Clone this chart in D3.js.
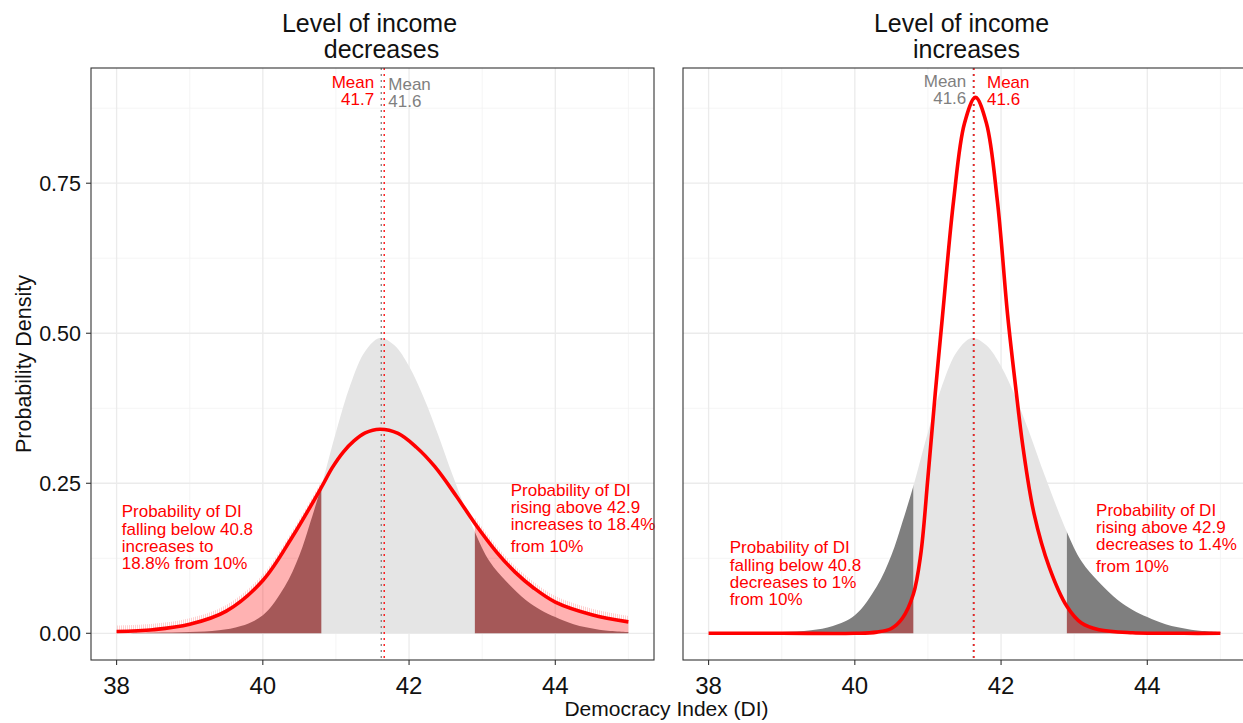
<!DOCTYPE html>
<html>
<head>
<meta charset="utf-8">
<script src="https://cdn.jsdelivr.net/npm/d3@7"></script>
<style>
  body { margin: 0; background: #fff; }
  text { font-family: "Liberation Sans", Arial, Helvetica, sans-serif; }
</style>
</head>
<body>
<svg id="chart" width="1243" height="723"></svg>
<script>
// Baseline density of the Democracy Index (grey)
const baseX       = [38.0, 38.5, 39.0, 39.4, 39.7, 40.0, 40.3, 40.5, 40.65, 40.8, 41.0, 41.2, 41.4, 41.6, 41.8, 42.0, 42.2, 42.4, 42.6, 42.9, 43.1, 43.34, 43.6, 43.8, 44.0, 44.25, 44.6, 45.0];
const baseDensity = [0.000, 0.001, 0.002, 0.005, 0.012, 0.030, 0.078, 0.130, 0.185, 0.245, 0.335, 0.415, 0.470, 0.492, 0.480, 0.445, 0.393, 0.330, 0.262, 0.169, 0.120, 0.085, 0.055, 0.039, 0.027, 0.015, 0.006, 0.002];

// Density when the level of income decreases (red, left panel)
const decX       = [38.0, 38.5, 39.0, 39.5, 40.0, 40.4, 40.8, 40.95, 41.1, 41.25, 41.4, 41.6, 41.85, 42.1, 42.35, 42.65, 42.9, 43.2, 43.45, 43.7, 44.0, 44.5, 45.0];
const decDensity = [0.003, 0.006, 0.015, 0.037, 0.088, 0.160, 0.243, 0.276, 0.302, 0.321, 0.334, 0.340, 0.333, 0.310, 0.278, 0.228, 0.183, 0.135, 0.102, 0.076, 0.052, 0.031, 0.019];

// Density when the level of income increases (red, right panel)
const incX       = [38.0, 39.0, 40.0, 40.3, 40.5, 40.65, 40.8, 40.9, 41.0, 41.1, 41.2, 41.35, 41.5, 41.65, 41.8, 41.95, 42.09, 42.2, 42.3, 42.45, 42.66, 42.9, 43.1, 43.34, 43.8, 44.5, 45.0];
const incDensity = [0.000, 0.000, 0.000, 0.002, 0.008, 0.025, 0.065, 0.130, 0.260, 0.400, 0.530, 0.720, 0.850, 0.893, 0.850, 0.720, 0.530, 0.410, 0.310, 0.200, 0.110, 0.045, 0.017, 0.006, 0.001, 0.000, 0.000];

// Tail thresholds and means
const cutoffs  = [40.8, 42.9];
const baseMean = 41.62;
const decMean  = 41.66;
const incMean  = 41.63;

// Axes
const xTicks = [38, 40, 42, 44];
const xMinor = [39, 41, 43, 45];
const yTicks = [0, 0.25, 0.5, 0.75];
const yTickLabels = ["0.00", "0.25", "0.50", "0.75"];
const yMinor = [0.125, 0.375, 0.625, 0.875];

// Panel headings and annotations
const panelTitles = [["Level of income", "decreases"], ["Level of income", "increases"]];
const lowerNotes = [["Probability of DI", "falling below 40.8", "increases to", "18.8% from 10%"],
                    ["Probability of DI", "falling below 40.8", "decreases to 1%", "from 10%"]];
const upperNotes = [["Probability of DI", "rising above 42.9", "increases to 18.4%"],
                    ["Probability of DI", "rising above 42.9", "decreases to 1.4%"]];
const upperNoteTail = ["from 10%", "from 10%"];

const RED = "#ff0000";
const GREY_LIGHT = "#e5e5e5";
const GREY_DARK = "#7f7f7f";
const GREY_TEXT = "#7f7f7f";

const svg = d3.select("#chart");
const defs = svg.append("defs");

// thin vertical hairlines used for the soft edge above the shaded tails
const pat = defs.append("pattern")
  .attr("id", "hair").attr("patternUnits", "userSpaceOnUse")
  .attr("width", 2).attr("height", 4);
pat.append("rect").attr("width", 1).attr("height", 4).attr("fill", "#ff8c8c");

const panelW = 563, panelH = 592, panelTop = 68;
const panelLefts = [91, 683];

const x = d3.scaleLinear().domain([37.65, 45.35]).range([0, panelW]);
const y = d3.scaleLinear().domain([-0.0445, 0.942]).range([panelH, 0]);

const zip = (xs, ys) => xs.map((v, i) => ({ x: v, d: ys[i] }));
const baseData = zip(baseX, baseDensity);
const panels = [
  { data: zip(decX, decDensity), mean: decMean, redLabelLeft: true,  fringe: true },
  { data: zip(incX, incDensity), mean: incMean, redLabelLeft: false, fringe: false }
];

const smooth = d3.curveCatmullRom.alpha(0.5);
const area = d3.area().x(p => x(p.x)).y0(y(0)).y1(p => Math.min(y(0), y(p.d))).curve(smooth);
const line = d3.line().x(p => x(p.x)).y(p => y(p.d)).curve(smooth);
const fringeArea = d3.area().x(p => x(p.x)).y0(p => y(p.d)).y1(p => y(p.d) - 6).curve(smooth);

panels.forEach((pn, i) => {
  const g = svg.append("g").attr("transform", `translate(${panelLefts[i]},${panelTop})`);

  // clip regions: whole panel, tails, middle band
  const cid = `clip${i}`;
  defs.append("clipPath").attr("id", cid)
    .append("rect").attr("width", panelW).attr("height", panelH);
  const tails = defs.append("clipPath").attr("id", `tails${i}`);
  tails.append("rect").attr("x", x(37.65)).attr("y", 0)
    .attr("width", x(cutoffs[0]) - x(37.65)).attr("height", panelH);
  tails.append("rect").attr("x", x(cutoffs[1])).attr("y", 0)
    .attr("width", x(45.35) - x(cutoffs[1])).attr("height", panelH);
  defs.append("clipPath").attr("id", `mid${i}`)
    .append("rect").attr("x", x(cutoffs[0])).attr("y", 0)
    .attr("width", x(cutoffs[1]) - x(cutoffs[0])).attr("height", panelH);

  const body = g.append("g").attr("clip-path", `url(#${cid})`);

  // grid
  body.selectAll(".gmin").data(xMinor).join("line")
    .attr("x1", d => x(d)).attr("x2", d => x(d)).attr("y1", 0).attr("y2", panelH)
    .attr("stroke", "#f2f2f2").attr("stroke-width", 0.8);
  body.selectAll(".gminy").data(yMinor).join("line")
    .attr("x1", 0).attr("x2", panelW).attr("y1", d => y(d)).attr("y2", d => y(d))
    .attr("stroke", "#f2f2f2").attr("stroke-width", 0.8);
  body.selectAll(".gmaj").data(xTicks).join("line")
    .attr("x1", d => x(d)).attr("x2", d => x(d)).attr("y1", 0).attr("y2", panelH)
    .attr("stroke", "#ebebeb").attr("stroke-width", 1.3);
  body.selectAll(".gmajy").data(yTicks).join("line")
    .attr("x1", 0).attr("x2", panelW).attr("y1", d => y(d)).attr("y2", d => y(d))
    .attr("stroke", "#ebebeb").attr("stroke-width", 1.3);

  // baseline density: light middle band, dark tails
  body.append("path").datum(baseData).attr("d", area)
    .attr("fill", GREY_LIGHT).attr("clip-path", `url(#mid${i})`);
  body.append("path").datum(baseData).attr("d", area)
    .attr("fill", GREY_DARK).attr("clip-path", `url(#tails${i})`);

  // shifted density: translucent red tails
  const tailG = body.append("g").attr("clip-path", `url(#tails${i})`);
  if (pn.fringe) {
    tailG.append("path").datum(pn.data).attr("d", fringeArea)
      .attr("fill", "url(#hair)").attr("opacity", 0.4);
  }
  tailG.append("path").datum(pn.data).attr("d", area)
    .attr("fill", RED).attr("fill-opacity", 0.3);

  // mean lines
  body.append("line")
    .attr("x1", x(baseMean)).attr("x2", x(baseMean)).attr("y1", 0).attr("y2", panelH)
    .attr("stroke", GREY_TEXT).attr("stroke-width", 1.3).attr("stroke-dasharray", "2,4");
  body.append("line")
    .attr("x1", x(pn.mean)).attr("x2", x(pn.mean)).attr("y1", 0).attr("y2", panelH)
    .attr("stroke", RED).attr("stroke-width", 1.3).attr("stroke-dasharray", "2,4");

  // shifted density curve
  body.append("path").datum(pn.data).attr("d", line)
    .attr("fill", "none").attr("stroke", RED).attr("stroke-width", 3.6)
    .attr("stroke-linejoin", "round");

  // mean labels
  const meanLabel = (mx, txt, color, toLeft, dx, base) => {
    const t = g.append("text").attr("fill", color).attr("font-size", 17)
      .attr("text-anchor", toLeft ? "end" : "start");
    ["Mean", txt].forEach((s, k) => {
      t.append("tspan").attr("x", x(mx) + dx).attr("y", base + k * 17).text(s);
    });
  };
  if (pn.redLabelLeft) {
    meanLabel(pn.mean, pn.mean.toFixed(1), RED, true, -10, 20);
    meanLabel(baseMean, baseMean.toFixed(1), GREY_TEXT, false, 7, 22);
  } else {
    meanLabel(baseMean, baseMean.toFixed(1), GREY_TEXT, true, -7, 19);
    meanLabel(pn.mean, pn.mean.toFixed(1), RED, false, 13, 20);
  }

  // tail annotations
  const note = (lines, px, py, extra) => {
    const t = g.append("text").attr("fill", RED).attr("font-size", 17);
    lines.forEach((s, k) => {
      t.append("tspan").attr("x", x(px)).attr("y", y(py) + k * 17.2).text(s);
    });
    if (extra) {
      t.append("tspan").attr("x", x(px)).attr("y", y(py) + (lines.length - 1) * 17.2 + 21.5).text(extra);
    }
  };
  if (i === 0) {
    note(lowerNotes[i], 38.07, 0.193, null);
    note(upperNotes[i], 43.39, 0.229, upperNoteTail[i]);
  } else {
    note(lowerNotes[i], 38.29, 0.133, null);
    note(upperNotes[i], 43.30, 0.1955, upperNoteTail[i]);
  }

  // panel border
  g.append("rect").attr("width", panelW).attr("height", panelH)
    .attr("fill", "none").attr("stroke", "#333").attr("stroke-width", 1.1);

  // x axis ticks and labels
  const xa = g.append("g").attr("transform", `translate(0,${panelH})`);
  xa.selectAll("line").data(xTicks).join("line")
    .attr("x1", d => x(d)).attr("x2", d => x(d)).attr("y1", 0).attr("y2", 5)
    .attr("stroke", "#333").attr("stroke-width", 1.1);
  xa.selectAll("text").data(xTicks).join("text")
    .attr("x", d => x(d)).attr("y", 34).attr("text-anchor", "middle")
    .attr("font-size", 24).attr("fill", "#111").text(d => d);

  // panel title
  const tt = g.append("text").attr("text-anchor", "middle").attr("font-size", 25).attr("fill", "#111");
  tt.append("tspan").attr("x", panelW / 2 - 3).attr("y", -36).text(panelTitles[i][0]);
  tt.append("tspan").attr("x", panelW / 2 + (i === 0 ? 9 : 2)).attr("y", -10).text(panelTitles[i][1]);
});

// y axis on the left panel
const ya = svg.append("g").attr("transform", `translate(${panelLefts[0]},${panelTop})`);
ya.selectAll("line").data(yTicks).join("line")
  .attr("x1", -5).attr("x2", 0).attr("y1", d => y(d)).attr("y2", d => y(d))
  .attr("stroke", "#333").attr("stroke-width", 1.1);
ya.selectAll("text").data(yTicks).join("text")
  .attr("x", -10).attr("y", d => y(d)).attr("dy", "0.36em").attr("text-anchor", "end")
  .attr("font-size", 21.5).attr("fill", "#111").text((d, k) => yTickLabels[k]);

// axis titles
svg.append("text").attr("x", 666.5).attr("y", 716).attr("text-anchor", "middle")
  .attr("font-size", 21).attr("fill", "#111").text("Democracy Index (DI)");
svg.append("text").attr("transform", "translate(30.5,364) rotate(-90)").attr("text-anchor", "middle")
  .attr("font-size", 21.5).attr("fill", "#111").text("Probability Density");
</script>
</body>
</html>
